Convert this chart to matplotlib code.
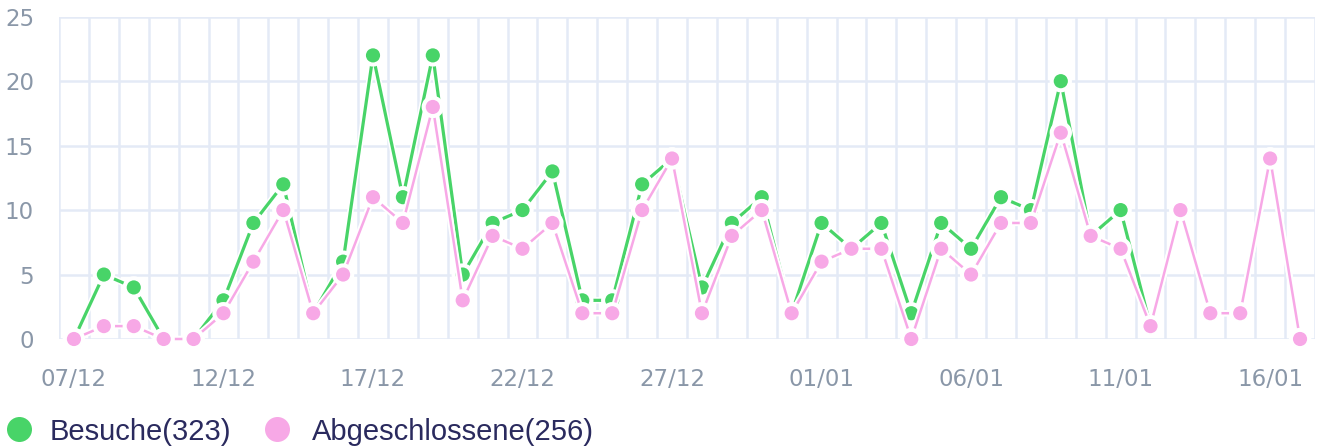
import numpy as np
import pandas as pd
import matplotlib
matplotlib.use('Agg')
import matplotlib.pyplot as plt
import matplotlib.patheffects as pe
from matplotlib.lines import Line2D
from matplotlib.ticker import MultipleLocator


# Daily counts, 07/12 .. 17/01
days = pd.date_range('2023-12-07', '2024-01-17').strftime('%d/%m').tolist()

besuche = [0, 5, 4, 0, 0, 3, 9, 12, 2, 6,
           22, 11, 22, 5, 9, 10, 13, 3, 3, 12,
           14, 4, 9, 11, 2, 9, 7, 9, 2, 9,
           7, 11, 10, 20, 8, 10, 1, 10, 2, 2,
           14, 0]
abgeschlossen = [0, 1, 1, 0, 0, 2, 6, 10, 2, 5,
                 11, 9, 18, 3, 8, 7, 9, 2, 2, 10,
                 14, 2, 8, 10, 2, 6, 7, 7, 0, 7,
                 5, 9, 9, 16, 8, 7, 1, 10, 2, 2,
                 14, 0]

legend_labels = ['Besuche(323)', 'Abgeschlossene(256)']

GREEN = '#48d468'
PINK = '#f7a8e6'
GRID = '#e4eaf6'
TICK = '#8a97a8'
NAVY = '#2a2a5e'

W, H = 1320, 448
fig = plt.figure(figsize=(W / 100, H / 100), dpi=100)
ax = fig.add_axes([0.0447, 0.2433, 0.9515, 0.7194])

x = np.arange(len(days))
halo = [pe.Stroke(linewidth=4.6, foreground='white'), pe.Normal()]

for vals, color, lw in [(besuche, GREEN, 2.3), (abgeschlossen, PINK, 1.8)]:
    ax.plot(x, vals, color=color, lw=lw, path_effects=halo,
            marker='o', markersize=11.5, markerfacecolor=color,
            markeredgecolor='white', markeredgewidth=1.3,
            clip_on=False, zorder=3)

ax.set_xlim(-0.5, len(days) - 0.5)
ax.set_ylim(0, 25)

# gridlines sit between the days, labels every 5 days
ax.set_xticks(x[::5])
ax.set_xticklabels(days[::5])
ax.xaxis.set_minor_locator(MultipleLocator(1, offset=0.5))
ax.yaxis.set_major_locator(MultipleLocator(5))
ax.grid(which='minor', axis='x', color=GRID, lw=1.8)
ax.grid(which='major', axis='y', color=GRID, lw=1.8)
ax.set_axisbelow(True)

for s in ax.spines.values():
    s.set_visible(False)
ax.tick_params(which='both', length=0)
ax.tick_params(axis='x', pad=21, labelsize=16.5, labelcolor=TICK)
ax.tick_params(axis='y', pad=18, labelsize=16.5, labelcolor=TICK)

# legend below the plot
legend_pos = [(19, 50), (277, 312)]
for (cx, tx), label, color in zip(legend_pos, legend_labels, (GREEN, PINK)):
    fig.add_artist(Line2D([cx / W], [1 - 429 / H], transform=fig.transFigure,
                          ls='none', marker='o', markersize=18,
                          markerfacecolor=color, markeredgecolor='none'))
    fig.text(tx / W, 1 - 440 / H, label, va='baseline', ha='left',
             family='Liberation Sans', size=21, color=NAVY)

fig.savefig('out.png', dpi=100)
